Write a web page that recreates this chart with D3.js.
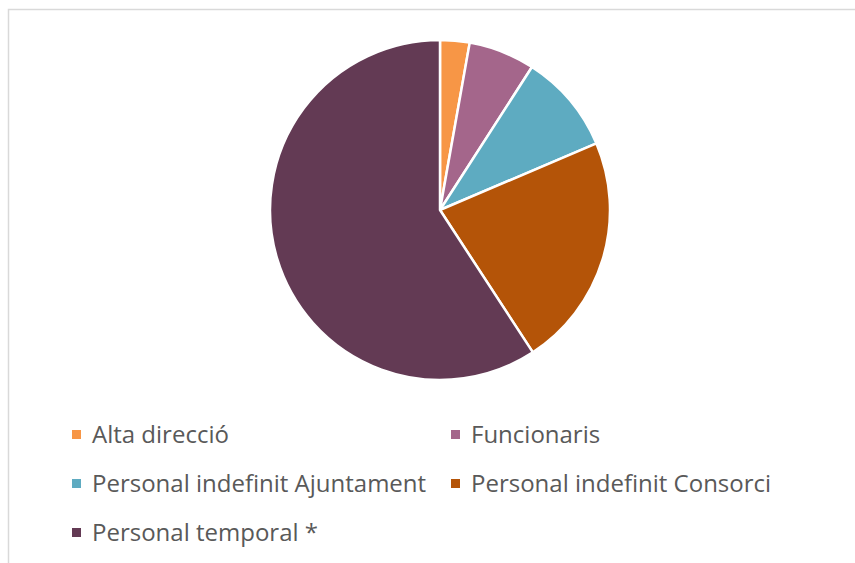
<!DOCTYPE html>
<html>
<head>
<meta charset="utf-8">
<script src="https://cdn.jsdelivr.net/npm/d3@7"></script>
<style>
  body { margin: 0; background: #fff; }
  text { font-family: "Open Sans", "Noto Sans", sans-serif; }
</style>
</head>
<body>
<div id="chart"></div>
<script>
var categories = ["Alta direcció", "Funcionaris", "Personal indefinit Ajuntament",
                  "Personal indefinit Consorci", "Personal temporal *"];
var values = [2.8, 6.3, 9.5, 22.2, 59.2];
var colors = ["#F79646", "#A4668B", "#5EABC1", "#B45408", "#633A54"];

var width = 855, height = 563;

var svg = d3.select("#chart").append("svg")
  .attr("width", width)
  .attr("height", height);

// chart area frame
svg.append("rect")
  .attr("x", 8.5).attr("y", 9.5)
  .attr("width", 900).attr("height", 600)
  .attr("fill", "none")
  .attr("stroke", "#d9d9d9")
  .attr("stroke-width", 1.5);

var data = categories.map((c, i) => ({name: c, value: values[i]}));

var color = d3.scaleOrdinal().domain(categories).range(colors);

var pie = d3.pie().sort(null).value(d => d.value);
var arc = d3.arc().innerRadius(0).outerRadius(170);

var g = svg.append("g").attr("transform", "translate(440,210)");

g.selectAll("path")
  .data(pie(data))
  .enter()
  .append("path")
  .attr("d", arc)
  .attr("fill", d => color(d.data.name))
  .attr("stroke", "#fff")
  .attr("stroke-width", 2.5)
  .attr("stroke-linejoin", "round");

// legend, two columns
var legend = svg.append("g").attr("class", "legend");
var item = legend.selectAll("g")
  .data(data)
  .enter()
  .append("g")
  .attr("transform", (d, i) => `translate(${i % 2 ? 451 : 72},${435 + Math.floor(i / 2) * 49})`);

item.append("rect")
  .attr("x", 0).attr("y", -5)
  .attr("width", 9).attr("height", 9)
  .attr("fill", d => color(d.name));

item.append("text")
  .attr("x", 20)
  .attr("y", 0)
  .attr("dy", "0.35em")
  .style("font-size", "24px")
  .style("fill", "#595959")
  .text(d => d.name);
</script>
</body>
</html>
